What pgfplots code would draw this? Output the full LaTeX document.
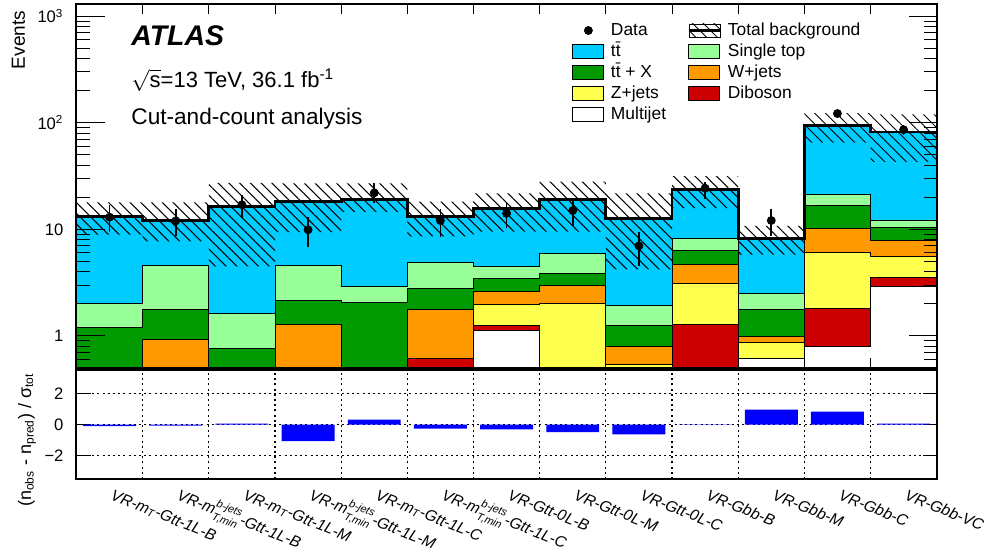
\documentclass[border=0pt]{standalone}
\usepackage{amsmath}
\usepackage{pgfplots}
\usepackage{pgfplotstable}
\pgfplotsset{compat=1.18}
\usetikzlibrary{patterns.meta}
\usepackage{fontspec}
\setmainfont{Liberation Sans}

\definecolor{ttbar}{RGB}{0,204,255}
\definecolor{singletop}{RGB}{153,255,153}
\definecolor{ttx}{RGB}{0,153,0}
\definecolor{wjets}{RGB}{255,153,0}
\definecolor{zjets}{RGB}{255,255,77}
\definecolor{diboson}{RGB}{204,0,0}

% cumulative stack tops per bin (bin i spans x=i..i+1), last row repeats the last bin
% mj = multijet, vv = +diboson, zj = +Z+jets, wj = +W+jets, ttx = +ttX, st = +single top, tot = +ttbar
\pgfplotstableread{
x   mj    vv    zj    wj    ttx   st    tot
0   0.1   0.1   0.1   0.1   1.2   2.0   13.3
1   0.1   0.1   0.1   0.92  1.76  4.58  12.2
2   0.1   0.1   0.1   0.1   0.76  1.64  16.3
3   0.1   0.1   0.1   1.29  2.14  4.58  18.2
4   0.1   0.1   0.1   0.1   2.06  2.91  19.2
5   0.1   0.61  0.61  1.76  2.79  4.92  13.3
6   1.12  1.26  1.99  2.62  3.49  4.48  15.7
7   0.1   0.1   2.0   2.98  3.83  5.98  19.2
8   0.1   0.1   0.54  0.79  1.25  1.93  12.7
9   0.1   1.28  3.13  4.65  6.3   8.13  23.7
10  0.61  0.61  0.87  0.99  1.76  2.52  8.27
11  0.8   1.8   6.1   10.2  16.7  21.3  94.8
12  2.91  3.56  5.55  7.84  10.4  12.0  82
13  2.91  3.56  5.55  7.84  10.4  12.0  82
}\stack

% outline of the total-background uncertainty band: upper edge left to right, lower edge back
\pgfplotstableread{
x   y
0   17.9
1   17.9
1   17.9
2   17.9
2   27.3
3   27.3
3   27.0
4   27.0
4   27.0
5   27.0
5   18.2
6   18.2
6   21.8
7   21.8
7   28.0
8   28.0
8   21.8
9   21.8
9   31.6
10  31.6
10  10.8
11  10.8
11  123
12  123
12  120
13  120
13  43
12  43
12  65
11  65
11  5.8
10  5.8
10  15.8
9   15.8
9   4.2
8   4.2
8   9.5
7   9.5
7   9.5
6   9.5
6   8.6
5   8.6
5   14.6
4   14.6
4   9.4
3   9.4
3   4.5
2   4.5
2   7.7
1   7.7
1   8.9
0   8.9
}\band

\pgfplotstableread{
x     y     ep    em
0.5   13.0  3.8   3.5
1.5   12.0  3.4   3.3
2.5   17.0  4.0   4.3
3.5   9.9   3.2   3.0
4.5   22.0  5.0   4.4
5.5   12.1  3.3   3.7
6.5   14.1  3.5   3.9
7.5   15.0  3.8   4.2
8.5   7.0   2.5   2.5
9.5   24.3  3.7   5.2
10.5  12.1  3.4   3.5
11.5  122   11    11
12.5  86    9.3   9.3
}\data

\pgfplotstableread{
x     s
0.5   -0.1
1.5   -0.08
2.5   0.06
3.5   -1.07
4.5   0.32
5.5   -0.26
6.5   -0.32
7.5   -0.49
8.5   -0.64
9.5   -0.03
10.5  0.96
11.5  0.83
12.5  0.05
}\sig

\pgfplotsset{
  boxleg/.style={legend image code/.code={\draw[fill=#1,line width=0.5pt] (0pt,-3.3pt) rectangle (15.5pt,3.3pt);}},
  stackfill/.style={const plot, fill=#1, draw=black, line width=0.45pt, forget plot},
}

\begin{document}
\begin{tikzpicture}
\path[use as bounding box] (0,0) rectangle (495pt,-278pt);

\begin{axis}[
  at={(38.25pt,-2pt)}, anchor=north west,
  scale only axis, width=430.1pt, height=182pt,
  ymode=log,
  xmin=0, xmax=13, ymin=0.5, ymax=1300,
  xtick={1,...,12}, xticklabels={},
  ytick={0.1,1,10,100,1000,10000},
  yticklabels={0.1,1,10,10\textsuperscript{2},10\textsuperscript{3},10\textsuperscript{4}},
  tick align=inside, xtick pos=both, ytick pos=both,
  xtick style={/pgfplots/major tick length=5pt, line width=0.5pt, black},
  ytick style={/pgfplots/major tick length=14pt, /pgfplots/minor tick length=6.5pt, line width=0.5pt, black},
  axis line style={line width=1pt},
  tick label style={font=\fontsize{8.3}{10}\selectfont},
  yticklabel style={xshift=-3pt},
  ylabel={Events},
  ylabel style={at={(axis description cs:-0.0674,1)}, anchor=east, font=\fontsize{9.5}{11}\selectfont},
  axis on top,
  legend columns=2,
  legend cell align=left,
  legend style={draw=none, fill=none, inner sep=0pt, at={(0.576,0.956)}, anchor=north west,
    font=\fontsize{8.7}{10}\selectfont, row sep=0.4pt,
    nodes={inner xsep=3.3pt, inner ysep=1pt, text height=6.3pt, text depth=1.8pt},
    /tikz/column 2/.style={column sep=7.5pt}},
]
% stacked backgrounds, drawn from the top of the stack down
\addplot[stackfill=ttbar] table[x=x,y=tot]{\stack} |- (axis cs:0,0.3) -- cycle;
\addplot[stackfill=singletop] table[x=x,y=st]{\stack} |- (axis cs:0,0.3) -- cycle;
\addplot[stackfill=ttx] table[x=x,y=ttx]{\stack} |- (axis cs:0,0.3) -- cycle;
\addplot[stackfill=wjets] table[x=x,y=wj]{\stack} |- (axis cs:0,0.3) -- cycle;
\addplot[stackfill=zjets] table[x=x,y=zj]{\stack} |- (axis cs:0,0.3) -- cycle;
\addplot[stackfill=diboson] table[x=x,y=vv]{\stack} |- (axis cs:0,0.3) -- cycle;
\addplot[stackfill=white] table[x=x,y=mj]{\stack} |- (axis cs:0,0.3) -- cycle;

% uncertainty band
\addplot[pattern={Lines[angle=-45,distance=3.8pt,line width=0.5pt]}, draw=none, forget plot] table[x=x,y=y]{\band} -- cycle;

% total background
\addplot[const plot, draw=black, line width=1.4pt, forget plot] table[x=x,y=tot]{\stack};

% data
\addplot[only marks, mark=*, mark size=2pt, black, forget plot,
  error bars/.cd, y dir=both, y explicit, error mark=none,
  error bar style={line width=0.8pt}]
  table[x=x,y=y,y error plus=ep,y error minus=em]{\data};

\addlegendimage{legend image code/.code={\fill[black] (7.75pt,0pt) circle (2pt);}}
\addlegendentry{Data}
\addlegendimage{legend image code/.code={
  \fill[pattern={Lines[angle=-45,distance=3.8pt,line width=0.5pt]}] (0pt,-3.3pt) rectangle (15.5pt,3.3pt);
  \draw[line width=1.3pt] (0pt,0pt) -- (15.5pt,0pt);}}
\addlegendentry{Total background}
\addlegendimage{boxleg=ttbar}
\addlegendentry{t\={t}}
\addlegendimage{boxleg=singletop}
\addlegendentry{Single top}
\addlegendimage{boxleg=ttx}
\addlegendentry{t\={t} + X}
\addlegendimage{boxleg=wjets}
\addlegendentry{W+jets}
\addlegendimage{boxleg=zjets}
\addlegendentry{Z+jets}
\addlegendimage{boxleg=diboson}
\addlegendentry{Diboson}
\addlegendimage{boxleg=white}
\addlegendentry{Multijet}

\node[anchor=base west, inner sep=0pt, font=\bfseries\itshape\fontsize{14.2}{16}\selectfont] at (rel axis cs:0.0634,0.887) {ATLAS};
\node[anchor=base west, inner sep=0pt, font=\fontsize{11}{13}\selectfont] at (rel axis cs:0.0634,0.771) {$\sqrt{\text{s}}$=13 TeV, 36.1 fb\textsuperscript{-1}};
\node[anchor=base west, inner sep=0pt, font=\fontsize{11.3}{13}\selectfont] at (rel axis cs:0.0634,0.668) {Cut-and-count analysis};
\end{axis}

\begin{axis}[
  at={(38.25pt,-185pt)}, anchor=north west,
  scale only axis, width=430.1pt, height=54.5pt,
  xmin=0, xmax=13, ymin=-3.5, ymax=3.5,
  xtick={0.5,1.5,...,12.5},
  xticklabels={
    VR-m$_{\text{T}}$-Gtt-1L-B,
    {VR-m$^{\text{b-jets}}_{\text{T,min}}$-Gtt-1L-B},
    VR-m$_{\text{T}}$-Gtt-1L-M,
    {VR-m$^{\text{b-jets}}_{\text{T,min}}$-Gtt-1L-M},
    VR-m$_{\text{T}}$-Gtt-1L-C,
    {VR-m$^{\text{b-jets}}_{\text{T,min}}$-Gtt-1L-C},
    VR-Gtt-0L-B, VR-Gtt-0L-M, VR-Gtt-0L-C,
    VR-Gbb-B, VR-Gbb-M, VR-Gbb-C, VR-Gbb-VC},
  minor xtick={1,...,12},
  ytick={-2,0,2}, yticklabels={−2,0,2},
  xmajorgrids=false, xminorgrids=true, ymajorgrids=true,
  grid style={black, line width=0.6pt, dash pattern=on 1pt off 1.6pt},
  tick align=inside, ytick pos=both,
  xtick style={/pgfplots/major tick length=0pt, /pgfplots/minor tick length=0pt},
  ytick style={/pgfplots/major tick length=7pt, black, line width=0.5pt},
  axis line style={line width=1pt},
  yticklabel style={font=\fontsize{8.3}{10}\selectfont, xshift=-3pt},
  xticklabel style={yshift=-10pt, rotate=-22, anchor=base west, inner sep=0pt, font=\itshape\fontsize{7.8}{9}\selectfont},
  ylabel={(n\textsubscript{obs} - n\textsubscript{pred}) / σ\textsubscript{tot}},
  ylabel style={at={(axis description cs:-0.0575,0.358)}, anchor=center, font=\fontsize{9}{11}\selectfont},
]
\addplot[ybar, bar width=0.8, fill=blue, draw=none] table[x=x,y=s]{\sig};
\end{axis}
\end{tikzpicture}
\end{document}
